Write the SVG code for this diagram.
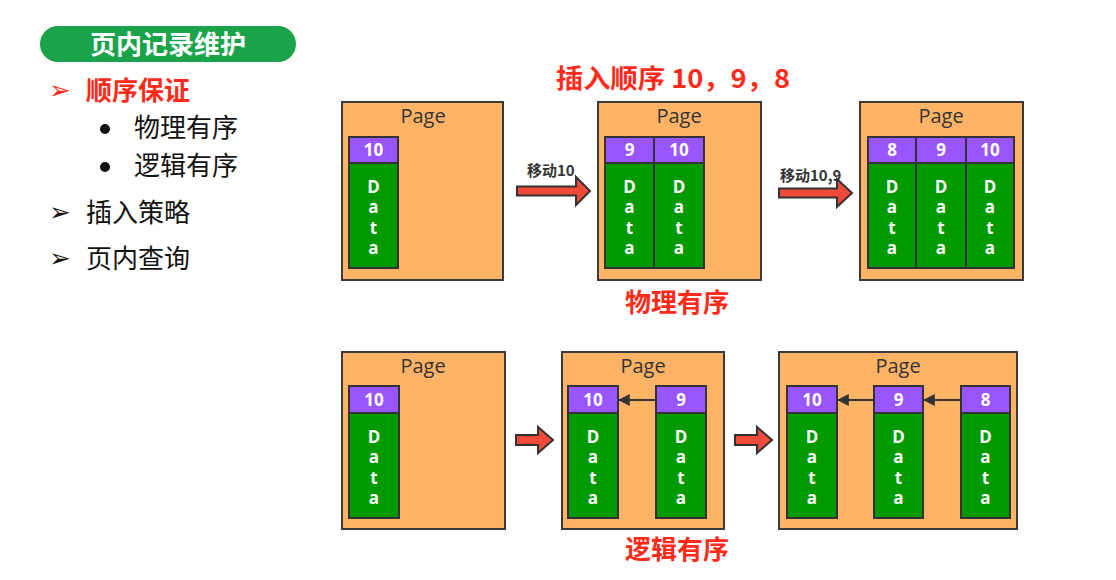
<svg xmlns="http://www.w3.org/2000/svg" width="1116" height="580" viewBox="0 0 1116 580">
<style>
.page{fill:#FFB366;stroke:#3a3a3a;stroke-width:2}
.hdr{fill:#9955FF;stroke:#333;stroke-width:2}
.dat{fill:#009900;stroke:#333;stroke-width:2}
.pt{font-family:"Open Sans","Noto Sans",sans-serif;font-size:20px;fill:#333;text-anchor:middle}
.num{font-family:"Open Sans","Noto Sans",sans-serif;font-size:17px;font-weight:bold;fill:#fff;text-anchor:middle}
.dl{font-family:"Open Sans","Noto Sans",sans-serif;font-size:17px;font-weight:bold;fill:#fff;text-anchor:middle}
.red{fill:#F04B3A;stroke:#333;stroke-width:2;stroke-linejoin:miter}
.lbl{font-family:"Noto Sans CJK SC","Noto Sans",sans-serif;font-size:15px;font-weight:bold;fill:#333}
.big{font-family:"Noto Sans CJK SC","Noto Sans",sans-serif;font-size:26px;font-weight:bold;fill:#FF2A1A}
.li{font-family:"Noto Sans CJK SC",sans-serif;font-size:26px;fill:#111}
.ar{font-family:"DejaVu Sans",sans-serif;font-size:26px}
.link{stroke:#333;stroke-width:2;fill:none}
</style>
<defs>
<marker id="ah" viewBox="0 0 10 10" refX="9" refY="5" markerWidth="12" markerHeight="12" markerUnits="userSpaceOnUse" orient="auto"><path d="M0,0 L10,5 L0,10 z" fill="#333"/></marker>
<g id="dataTop">
<text class="dl" y="24" dy="6">D</text><text class="dl" y="44" dy="6">a</text><text class="dl" y="65" dy="6">t</text><text class="dl" y="85" dy="6">a</text>
</g>
</defs>
<rect width="1116" height="580" fill="#fff"/>

<g id="sidebar">
<rect x="40" y="26" width="256" height="36" rx="18" fill="#1BA34C"/>
<text x="168" y="54" text-anchor="middle" font-family="'Noto Sans CJK SC',sans-serif" font-size="26" font-weight="bold" fill="#fff">页内记录维护</text>
<text x="49" y="99" class="ar" fill="#FF2A1A">➢</text>
<text x="86" y="100" font-family="'Noto Sans CJK SC',sans-serif" font-size="26" font-weight="bold" fill="#FF2A1A">顺序保证</text>
<circle cx="105" cy="129" r="5" fill="#111"/>
<text x="134" y="137" class="li" font-size="24">物理有序</text>
<circle cx="105" cy="167" r="5" fill="#111"/>
<text x="134" y="175" class="li" font-size="24">逻辑有序</text>
<text x="49" y="221" class="ar" fill="#111">➢</text>
<text x="86" y="222" class="li">插入策略</text>
<text x="49" y="267" class="ar" fill="#111">➢</text>
<text x="86" y="268" class="li">页内查询</text>
</g>

<text x="556" y="88" class="big" textLength="234" lengthAdjust="spacingAndGlyphs">插入顺序 10，9，8</text>
<text x="677" y="312" class="big" text-anchor="middle">物理有序</text>
<text x="677" y="559" class="big" text-anchor="middle">逻辑有序</text>

<!-- Top row -->
<g id="p1">
<rect class="page" x="342" y="102" width="161" height="178"/>
<text class="pt" x="423" y="123">Page</text>
<rect class="hdr" x="349" y="137" width="49" height="26"/><text class="num" x="373.5" y="156">10</text>
<rect class="dat" x="349" y="163" width="49" height="105"/><use href="#dataTop" x="373.5" y="163"/>
</g>
<g id="p2">
<rect class="page" x="598" y="102" width="163" height="178"/>
<text class="pt" x="679" y="123">Page</text>
<rect class="hdr" x="605" y="137" width="49" height="26"/><text class="num" x="629.5" y="156">9</text>
<rect class="dat" x="605" y="163" width="49" height="105"/><use href="#dataTop" x="629.5" y="163"/>
<rect class="hdr" x="654" y="137" width="50" height="26"/><text class="num" x="679" y="156">10</text>
<rect class="dat" x="654" y="163" width="50" height="105"/><use href="#dataTop" x="679" y="163"/>
</g>
<g id="p3">
<rect class="page" x="860" y="102" width="163" height="178"/>
<text class="pt" x="941" y="123">Page</text>
<rect class="hdr" x="868" y="137" width="48" height="26"/><text class="num" x="892" y="156">8</text>
<rect class="dat" x="868" y="163" width="48" height="105"/><use href="#dataTop" x="892" y="163"/>
<rect class="hdr" x="916" y="137" width="50" height="26"/><text class="num" x="941" y="156">9</text>
<rect class="dat" x="916" y="163" width="50" height="105"/><use href="#dataTop" x="941" y="163"/>
<rect class="hdr" x="966" y="137" width="48" height="26"/><text class="num" x="990" y="156">10</text>
<rect class="dat" x="966" y="163" width="48" height="105"/><use href="#dataTop" x="990" y="163"/>
</g>

<!-- Bottom row -->
<g id="q1">
<rect class="page" x="342" y="352" width="163" height="177"/>
<text class="pt" x="423" y="373">Page</text>
<rect class="hdr" x="349" y="386" width="50" height="27"/><text class="num" x="374" y="406">10</text>
<rect class="dat" x="349" y="413" width="50" height="105"/><use href="#dataTop" x="374" y="413"/>
</g>
<g id="q2">
<rect class="page" x="562" y="352" width="162" height="177"/>
<text class="pt" x="643" y="373">Page</text>
<rect class="hdr" x="568" y="386" width="50" height="27"/><text class="num" x="593" y="406">10</text>
<rect class="dat" x="568" y="413" width="50" height="105"/><use href="#dataTop" x="593" y="413"/>
<rect class="hdr" x="656" y="386" width="50" height="27"/><text class="num" x="681" y="406">9</text>
<rect class="dat" x="656" y="413" width="50" height="105"/><use href="#dataTop" x="681" y="413"/>
</g>
<g id="q3">
<rect class="page" x="779" y="352" width="238" height="177"/>
<text class="pt" x="898" y="373">Page</text>
<rect class="hdr" x="787" y="386" width="50" height="27"/><text class="num" x="812" y="406">10</text>
<rect class="dat" x="787" y="413" width="50" height="105"/><use href="#dataTop" x="812" y="413"/>
<rect class="hdr" x="874" y="386" width="49" height="27"/><text class="num" x="898.5" y="406">9</text>
<rect class="dat" x="874" y="413" width="49" height="105"/><use href="#dataTop" x="898.5" y="413"/>
<rect class="hdr" x="961" y="386" width="49" height="27"/><text class="num" x="985.5" y="406">8</text>
<rect class="dat" x="961" y="413" width="49" height="105"/><use href="#dataTop" x="985.5" y="413"/>
</g>

<g id="connectors">
<polygon class="red" points="517,186.5 576,186.5 576,177 590,191 576,205 576,195.5 517,195.5"/>
<text class="lbl" x="527" y="176">移动10</text>
<polygon class="red" points="779,188.5 837,188.5 837,179 852,193 837,207 837,197.5 779,197.5"/>
<text class="lbl" x="780" y="181">移动10,9</text>
<polygon class="red" points="516,435 538,435 538,427 553,440 538,453 538,445 516,445"/>
<polygon class="red" points="735,435 757,435 757,427 772,440 757,453 757,445 735,445"/>
<line class="link" x1="656" y1="400" x2="619" y2="400" marker-end="url(#ah)"/>
<line class="link" x1="874" y1="400" x2="838" y2="400" marker-end="url(#ah)"/>
<line class="link" x1="961" y1="400" x2="924" y2="400" marker-end="url(#ah)"/>
</g>
</svg>
